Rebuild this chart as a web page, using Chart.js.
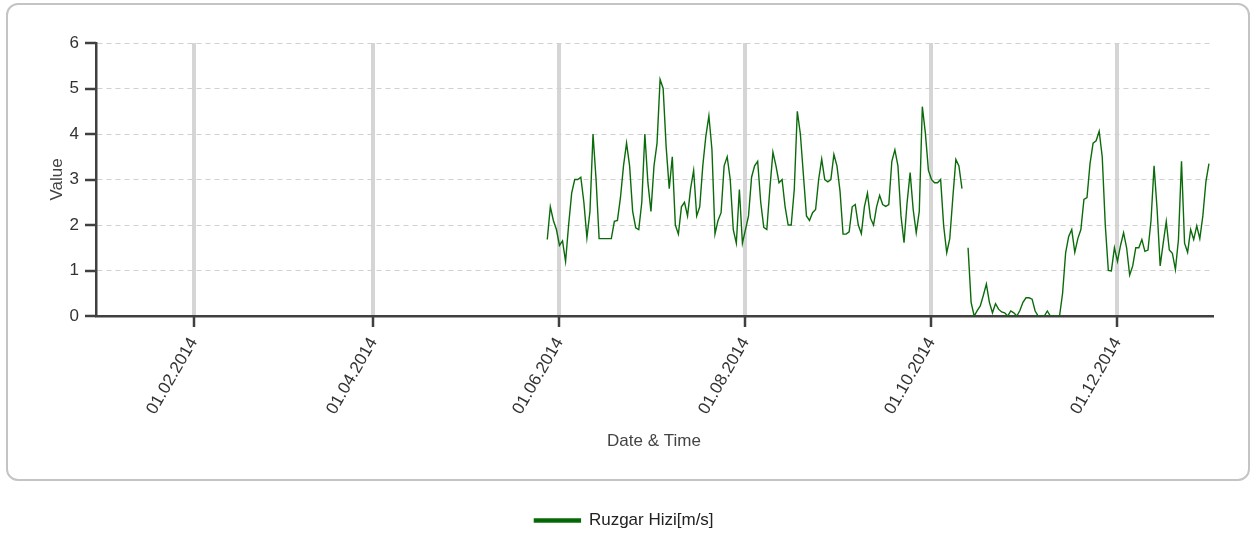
<!DOCTYPE html>
<html>
<head>
<meta charset="utf-8">
<title>Ruzgar Hizi</title>
<script src="https://cdn.jsdelivr.net/npm/chart.js@4.4.1/dist/chart.umd.min.js"></script>
<style>
    html, body { margin: 0; padding: 0; background: #fff; }
    #wrap { position: relative; width: 1259px; height: 534px; }
    #frame {
        position: absolute; left: 6px; top: 3px;
        width: 1240px; height: 474px;
        border: 2px solid #c4c4c4; border-radius: 12px;
    }
    #windChart { position: absolute; left: 0; top: 0; }
</style>
</head>
<body>
<div id="wrap">
    <div id="frame"></div>
    <canvas id="windChart" width="1259" height="534"></canvas>
</div>
<script>
// gün numarası: 01.01.2014 = 0
const startDay = 147; // 28.05.2014

// günlük rüzgar hızı, null = veri yok
const windSpeed = [
    // 28.05 - ...
    1.68, 2.4, 2.1, 1.9, 1.55, 1.65, 1.2, 2.0, 2.7, 3.0, 3.0, 3.05, 2.5, 1.72, 2.3, 4.0, 3.0, 1.7, 1.7, 1.7,
    1.7, 1.7, 2.08, 2.1, 2.6, 3.3, 3.8, 3.3, 2.3, 1.94, 1.9, 2.5, 4.0, 2.93, 2.3, 3.3, 3.8,
    5.2, 5.0, 3.7, 2.8, 3.5, 2.0, 1.8, 2.4, 2.5, 2.2, 2.8, 3.2, 2.2, 2.4, 3.3, 3.95, 4.4, 3.66, 1.8, 2.1,
    2.27, 3.3, 3.5, 3.0, 1.9, 1.6, 2.78, 1.6, 1.9, 2.2, 3.05, 3.3, 3.4, 2.5, 1.95,
    1.9, 2.8, 3.6, 3.3, 2.93, 3.0, 2.4, 2.0, 2.0, 2.78, 4.5, 4.0, 3.1, 2.2, 2.1, 2.27, 2.34, 3.0, 3.45, 3.0,
    2.95, 3.0, 3.55, 3.3, 2.75, 1.8, 1.8, 1.85, 2.4, 2.45, 2.0, 1.81, 2.4, 2.7, 2.15, 2.0,
    2.4, 2.65, 2.45, 2.41, 2.45, 3.4, 3.65, 3.3, 2.2, 1.61, 2.49, 3.15, 2.34, 1.83, 2.3, 4.6, 4.02, 3.2, 3.0, 2.93,
    2.93, 3.0, 1.98, 1.39, 1.7, 2.6, 3.44, 3.3, 2.8,
    null,
    // 13.10 - 31.12
    1.5, 0.3, 0.0, 0.12, 0.22, 0.45,
    0.7, 0.3, 0.07, 0.27, 0.15, 0.09, 0.07, 0.0, 0.11, 0.07, 0.0, 0.12, 0.3, 0.4, 0.4, 0.37, 0.11, 0.0, 0.0, 0.0,
    0.11, 0.0, 0.0, 0.0, 0.0, 0.5, 1.39, 1.75, 1.9, 1.4, 1.7, 1.9, 2.56, 2.6, 3.35, 3.8,
    3.85, 4.06, 3.5, 2.0, 1.0, 0.99, 1.5, 1.2, 1.55, 1.83, 1.5, 0.9, 1.1, 1.5, 1.5, 1.68, 1.42, 1.45, 2.1, 3.3,
    2.34, 1.1, 1.6, 2.08, 1.45, 1.38, 1.02, 1.68, 3.4, 1.6, 1.4, 1.9, 1.68, 1.98, 1.7, 2.2, 2.95, 3.35
];

// x ekseni etiketleri
const tickDays = [31, 90, 151, 212, 273, 334];
const tickLabels = ['01.02.2014', '01.04.2014', '01.06.2014', '01.08.2014', '01.10.2014', '01.12.2014'];

const axisColor = '#404040';
const fontFamily = "'Liberation Sans', Arial, sans-serif";

Chart.defaults.font.family = fontFamily;
Chart.defaults.font.size = 17;
Chart.defaults.color = '#333';

// eksen çentikleri (büyük / küçük)
const tickMarks = {
    id: 'tickMarks',
    afterDraw(chart) {
        const { ctx, chartArea, scales: { x, y } } = chart;
        ctx.save();
        ctx.strokeStyle = axisColor;
        ctx.lineWidth = 2.5;
        ctx.beginPath();
        y.ticks.forEach(t => {
            const py = Math.round(y.getPixelForValue(t.value));
            const len = Number.isInteger(t.value) ? 11 : 7;
            ctx.moveTo(chartArea.left - len, py);
            ctx.lineTo(chartArea.left, py);
        });
        x.ticks.forEach(t => {
            const px = Math.round(x.getPixelForValue(t.value));
            ctx.moveTo(px, chartArea.bottom);
            ctx.lineTo(px, chartArea.bottom + 11);
        });
        ctx.stroke();
        ctx.restore();
    }
};

const points = windSpeed.map((v, i) => ({ x: startDay + i, y: v }));

new Chart(document.getElementById('windChart'), {
    type: 'line',
    data: {
        datasets: [{
            label: 'Ruzgar Hizi[m/s]',
            data: points,
            borderColor: '#0b6b0b',
            backgroundColor: '#006400',
            borderWidth: 1.4,
            pointRadius: 0,
            tension: 0,
            fill: false,
            spanGaps: false
        }]
    },
    options: {
        responsive: false,
        animation: false,
        // sol boşluk lejantı ortalamak için, alt boşluk lejantı aşağı itmek için
        layout: { padding: { left: 36, right: 47, top: 43, bottom: -5 } },
        scales: {
            x: {
                type: 'linear',
                min: -1,
                max: 365,
                afterBuildTicks: s => { s.ticks = tickDays.map(v => ({ value: v })); },
                afterFit: s => { s.height = 191; },
                ticks: {
                    autoSkip: false,
                    minRotation: 60,
                    maxRotation: 60,
                    padding: 18,
                    color: '#333',
                    callback: (v, i) => tickLabels[i]
                },
                grid: { drawTicks: false, color: '#d5d5d5', lineWidth: 4 },
                border: { color: axisColor, width: 2.5 },
                title: { display: true, text: 'Date & Time', color: '#444', padding: { top: 0, bottom: 55 } }
            },
            y: {
                min: 0,
                max: 6,
                afterFit: s => { s.width = 60; },
                ticks: {
                    stepSize: 0.5,
                    padding: 17,
                    color: '#333',
                    callback: v => Number.isInteger(v) ? v : ''
                },
                grid: {
                    drawTicks: false,
                    lineWidth: 1,
                    color: c => (Number.isInteger(c.tick.value) && c.tick.value > 0) ? '#d0d0d0' : 'transparent'
                },
                border: { color: axisColor, width: 2.5, dash: [5, 4] },
                title: { display: true, text: 'Value', color: '#444', padding: { top: 11, bottom: 0 } }
            }
        },
        plugins: {
            legend: {
                position: 'bottom',
                labels: { boxWidth: 46, boxHeight: 3, color: '#222', padding: 5 }
            },
            tooltip: { enabled: false }
        }
    },
    plugins: [tickMarks]
});
</script>
</body>
</html>
